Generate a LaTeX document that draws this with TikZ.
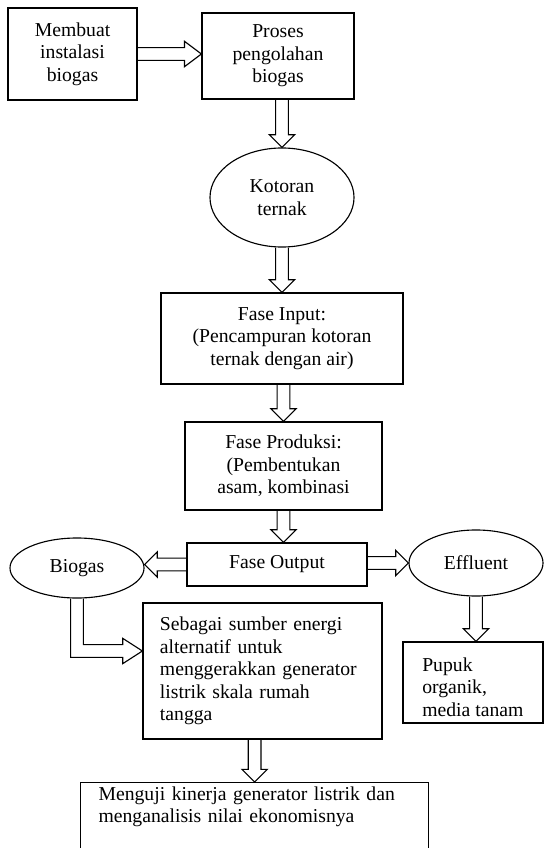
\documentclass[tikz,border=0pt]{standalone}
\usepackage{fontspec}
\setmainfont{Liberation Serif}
\usetikzlibrary{calc,shapes.geometric}

\tikzset{
  box/.style={draw, line width=0.8pt, inner sep=0pt, align=center,
    font=\fontsize{14}{16}\selectfont},
  oval/.style={box, ellipse},
  blockline/.style={draw, line width=0.8pt}
}

% hollow block arrow from #2 to #3, #1 = head length
\newcommand{\blockarrow}[3][9pt]{%
  \coordinate (ba-s) at (#2);
  \coordinate (ba-t) at (#3);
  \coordinate (ba-h) at ($(ba-t)!#1!(ba-s)$);
  \draw[blockline] ($(ba-s)!4.5pt!90:(ba-t)$) -- ($(ba-h)!4.5pt!90:(ba-t)$)
    -- ($(ba-h)!9pt!90:(ba-t)$) -- (ba-t)
    -- ($(ba-h)!9pt!-90:(ba-t)$) -- ($(ba-h)!4.5pt!-90:(ba-t)$)
    -- ($(ba-s)!4.5pt!-90:(ba-t)$);}

\begin{document}
\begin{tikzpicture}[x=0.025cm, y=-0.025cm]
\useasboundingbox (0,0) rectangle (544,848);
%\draw[help lines] (0,0) grid[step=1cm] (544,848);

\node[box, minimum width=3.225cm, minimum height=2.3cm] (membuat) at (72.5,54) {Membuat\\instalasi\\biogas};
\node[box, minimum width=3.8cm, minimum height=2.15cm] (proses) at (278,56) {Proses\\pengolahan\\biogas};
\node[oval, minimum width=3.6cm, minimum height=2.475cm] (kotoran) at (282,197.5) {Kotoran\\ternak};
\node[box, minimum width=6.05cm, minimum height=2.275cm] (input) at (282,338.5) {Fase Input:\\(Pencampuran kotoran\\ternak dengan air)};
\node[box, minimum width=4.925cm, minimum height=2.2cm] (produksi) at (283.5,466) {Fase Produksi:\\(Pembentukan\\asam, kombinasi};
\node[box, minimum width=4.5cm, minimum height=1.075cm] (output) at (277,564.5) {Fase Output};
\node[oval, minimum width=3.35cm, minimum height=1.5cm] (biogas) at (77,568) {Biogas};
\node[oval, minimum width=3.35cm, minimum height=1.65cm] (effluent) at (476,563) {Effluent};
\node[box, align=left, text width=5.125cm, inner xsep=0.425cm, minimum width=5.975cm, minimum height=3.4cm] (sebagai) at (262.5,671)
  {Sebagai sumber energi\\alternatif untuk\\menggerakkan generator\\listrik skala rumah\\tangga};
\node[box, minimum width=3.5cm, minimum height=2.025cm] (pupuk) at (473,682.5) {};
\begin{scope}
\clip (pupuk.north west) rectangle ([yshift=0.17cm]pupuk.south east);
\node[anchor=north west, align=left, inner sep=0pt, font=\fontsize{14}{16}\selectfont] (pupuktext) at (422,657.5) {Pupuk\\organik,\\media tanam};
\end{scope}
\node[box, anchor=north west, align=left, text width=7.8cm, inner xsep=0.45cm, inner ysep=3pt, text depth=3cm] (menguji) at (80,782)
  {Menguji kinerja generator listrik dan\\menganalisis nilai ekonomisnya};

\blockarrow[12pt]{membuat.east}{proses.west |- membuat.east}
\blockarrow{kotoran.north |- proses.south}{kotoran.north}
\blockarrow{kotoran.south}{input.north}
\blockarrow{produksi.north |- input.south}{produksi.north}
\blockarrow{produksi.south}{output.north -| produksi.south}
\blockarrow{output.west}{biogas.east |- output.west}
\blockarrow{output.east |- effluent.west}{effluent.west}
\blockarrow{effluent.south}{pupuk.north -| effluent.south}
\blockarrow{menguji.north |- sebagai.south}{menguji.north}

% bent arrow from Biogas to the first box
\coordinate (ltip) at ([yshift=0.5cm]sebagai.west);
\draw[blockline] ([xshift=-4.5pt]biogas.south) |- ([xshift=-14pt,yshift=-4.5pt]ltip)
  -- ([xshift=-14pt,yshift=-9pt]ltip) -- (ltip) -- ([xshift=-14pt,yshift=9pt]ltip)
  -- ([xshift=-14pt,yshift=4.5pt]ltip) -| ([xshift=4.5pt]biogas.south);
\end{tikzpicture}
\end{document}
